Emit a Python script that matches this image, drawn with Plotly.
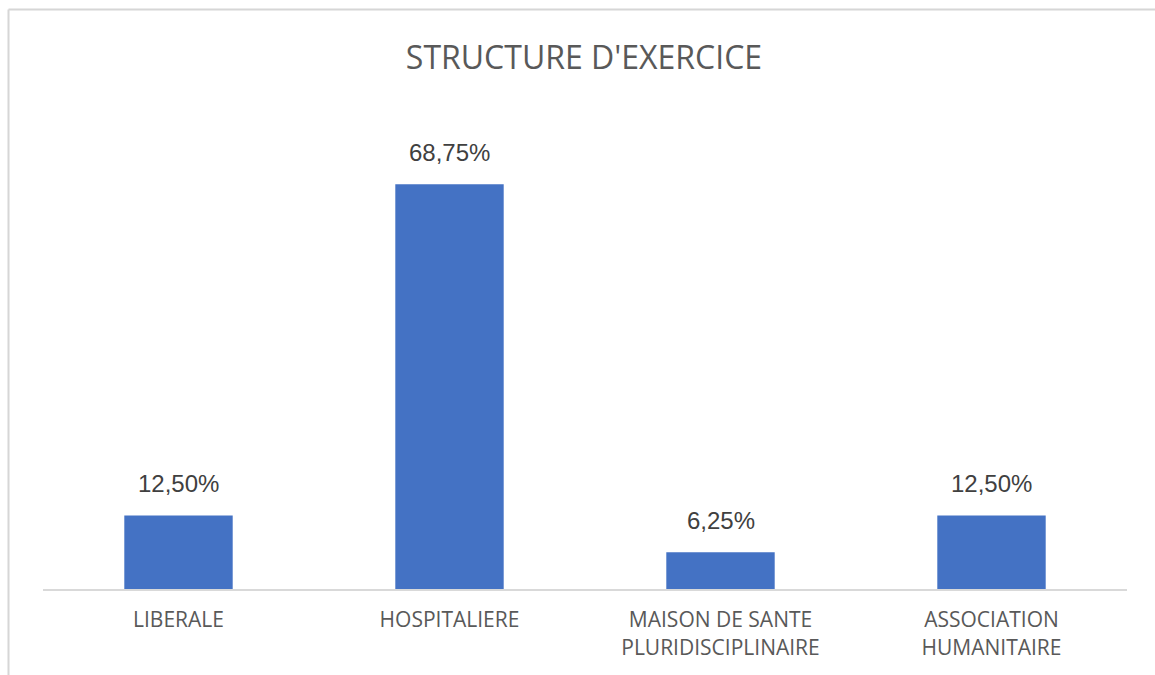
import plotly.graph_objects as go

categories = ["LIBERALE", "HOSPITALIERE", "MAISON DE SANTE<br>PLURIDISCIPLINAIRE", "ASSOCIATION<br>HUMANITAIRE"]
values = [12.50, 68.75, 6.25, 12.50]
value_labels = ["12,50%", "68,75%", "6,25%", "12,50%"]

W, H = 1155, 675
ML, MR, MT, MB = 43, 28, 118, 86
pw = W - ML - MR
ph = H - MT - MB

def px_x(p):
    return (p - ML) / pw

def px_y(p):
    return (H - MB - p) / ph

fig = go.Figure()
fig.add_trace(go.Bar(
    x=categories, y=values,
    marker=dict(color="#4472C4", line=dict(width=0)),
    width=0.4,
    hoverinfo="skip",
))

for c, v, t in zip(categories, values, value_labels):
    fig.add_annotation(x=c, y=v, text=t, showarrow=False, yanchor="bottom",
                       yshift=16, font=dict(family="Liberation Sans, Arial", size=24, color="#404040"))

fig.update_layout(
    width=W, height=H,
    margin=dict(l=ML, r=MR, t=MT, b=MB),
    paper_bgcolor="white", plot_bgcolor="white",
    title=dict(text="STRUCTURE D'EXERCICE", x=584 / W, xanchor="center", y=1 - 58 / H, yanchor="middle",
               font=dict(family="Open Sans", size=32, color="#595959")),
    showlegend=False,
    bargap=0.6,
    xaxis=dict(showline=True, linecolor="#d9d9d9", linewidth=2, showgrid=False, ticks="",
               tickfont=dict(family="Open Sans", size=21, color="#595959"), ticklabelstandoff=11,
               fixedrange=True),
    yaxis=dict(range=[0, 80], visible=False, fixedrange=True),
    shapes=[
        dict(type="line", xref="paper", yref="paper", x0=px_x(8.5), x1=px_x(8.5), y0=px_y(9.5), y1=px_y(700),
             line=dict(color="#d6d6d6", width=2)),
        dict(type="line", xref="paper", yref="paper", x0=px_x(8.5), x1=px_x(1200), y0=px_y(9.5), y1=px_y(9.5),
             line=dict(color="#d6d6d6", width=2)),
    ],
)

fig.write_html("out.html")
